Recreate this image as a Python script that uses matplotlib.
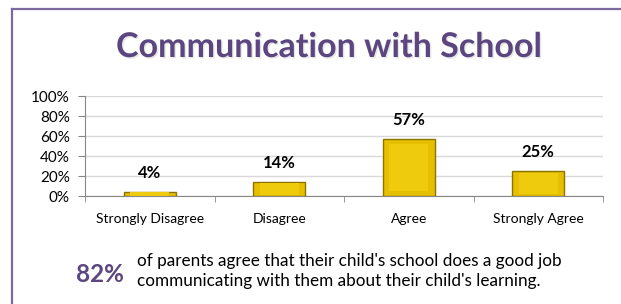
import matplotlib
matplotlib.use("Agg")
import matplotlib.pyplot as plt
import matplotlib.patheffects as pe
from matplotlib.lines import Line2D
from matplotlib.ticker import FixedLocator, PercentFormatter

categories = ["Strongly Disagree", "Disagree", "Agree", "Strongly Agree"]
values = [4, 14, 57, 25]
value_labels = ["4%", "14%", "57%", "25%"]
yticks = [0, 20, 40, 60, 80, 100]
title = "Communication with School"
summary_pct = "82%"
summary_lines = ["of parents agree that their child's school does a good job",
                 "communicating with them about their child's learning."]

plt.rcParams['font.family'] = ['Lato', 'DejaVu Sans']
W, H = 621, 304
fig = plt.figure(figsize=(W/100, H/100), dpi=100)
fig.patch.set_facecolor('white')

purple = '#5B4680'
# frame lines
fig.add_artist(Line2D([12/W, 12/W], [0, 1-9/H], color='#7B6A9C', lw=1.6))
fig.add_artist(Line2D([12/W, 1], [1-9/H, 1-9/H], color='#7B6A9C', lw=1.6))

fig.text(329/W, 1-57/H, title, ha='center', va='baseline', fontsize=24.5,
         fontweight='bold', color=purple,
         path_effects=[pe.withSimplePatchShadow(offset=(1.0, -1.0), shadow_rgbFace='#999999', alpha=0.25)])

ax = fig.add_axes([85/W, 1-196/H, (603-85)/W, 100/H])
x = list(range(len(categories)))
bars = ax.bar(x, values, width=0.4, color='#E6C000', edgecolor='#8C7400', linewidth=1.0, zorder=3)
# bevel highlight
ax.bar(x, [v*0.82 for v in values], width=0.30, bottom=[v*0.09 for v in values],
       color='#EFCB0E', linewidth=0, zorder=4)
for xi, v, lab in zip(x, values, value_labels):
    ax.text(xi, v + 19, lab, ha='center', va='center', fontsize=12, fontweight='bold', color='black', zorder=5)

ax.set_xlim(-0.5, len(categories)-0.5)
ax.set_ylim(0, 100)
ax.set_yticks(yticks)
ax.yaxis.set_major_formatter(PercentFormatter(decimals=0))
ax.set_xticks(x)
ax.set_xticklabels(categories)
ax.xaxis.set_minor_locator(FixedLocator([i-0.5 for i in range(len(categories)+1)]))
ax.tick_params(axis='x', which='major', length=0, pad=12, labelsize=10)
ax.tick_params(axis='x', which='minor', length=4, color='#868686', direction='out')
ax.tick_params(axis='y', length=5, color='#868686', labelsize=11, pad=6)
ax.grid(axis='y', color='#D9D9D9', lw=1, zorder=0)
for s in ['top', 'right']:
    ax.spines[s].set_visible(False)
for s in ['left', 'bottom']:
    ax.spines[s].set_color('#868686')
ax.set_facecolor('white')

fig.text(100/W, 1-282/H, summary_pct, ha='center', va='baseline', fontsize=17.5,
         fontweight='bold', color=purple)
for i, line in enumerate(summary_lines):
    fig.text(137/W, 1-(266 + 20*i)/H, line, ha='left', va='baseline', fontsize=12.3,
             color='black')

fig.savefig('out.png', dpi=100)
